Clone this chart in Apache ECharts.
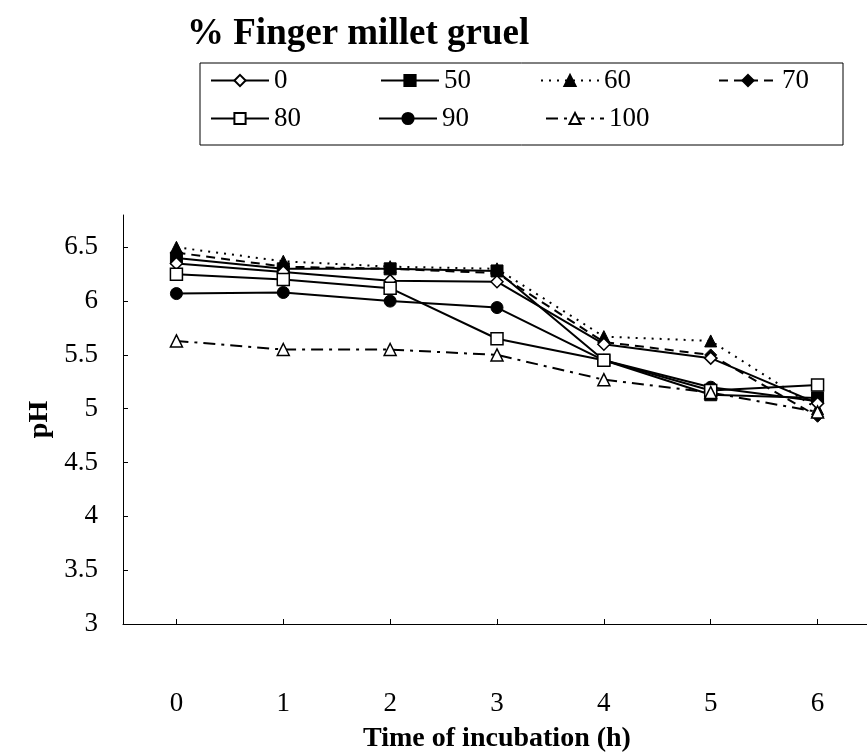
<!DOCTYPE html>
<html>
<head>
<meta charset="utf-8">
<script src="https://cdn.jsdelivr.net/npm/echarts@6/dist/echarts.min.js"></script>
<style>
  html, body { margin: 0; padding: 0; background: #fff; }
  #main { width: 867px; height: 752px; }
</style>
</head>
<body>
<div id="main"></div>
<script>
// time of incubation (h)
const hours = ["0", "1", "2", "3", "4", "5", "6"];
const yTicks = [3, 3.5, 4, 4.5, 5, 5.5, 6, 6.5];

// pH per % finger millet gruel
const ph0 = [6.35, 6.27, 6.19, 6.18, 5.6, 5.47, 5.05];
const ph50 = [6.4, 6.3, 6.3, 6.28, 5.45, 5.13, 5.1];
const ph60 = [6.5, 6.37, 6.32, 6.3, 5.67, 5.63, 5.0];
const ph70 = [6.45, 6.32, 6.3, 6.26, 5.62, 5.5, 4.93];
const ph80 = [6.25, 6.2, 6.12, 5.65, 5.45, 5.17, 5.22];
const ph90 = [6.07, 6.08, 6.0, 5.94, 5.45, 5.2, 5.07];
const ph100 = [5.63, 5.55, 5.55, 5.5, 5.27, 5.15, 4.97];

const serif = "'Liberation Serif', 'DejaVu Serif', serif";

const myChart = echarts.init(document.getElementById("main"));

// one line series
const mkSeries = (name, data, symbol, hollow, lineType) => ({
  name: name,
  type: "line",
  data: data,
  symbol: symbol,
  symbolSize: 12,
  showAllSymbol: true,
  lineStyle: { color: "#000", width: 2, type: lineType },
  itemStyle: hollow
    ? { color: "#fff", borderColor: "#000", borderWidth: 1.5 }
    : { color: "#000", borderColor: "#000", borderWidth: 1 },
  emphasis: { disabled: true },
  z: hollow ? 3 : 2,
});

// legend items placed one by one (two rows, boxed)
const legendPos = [
  ["0", 210, 67],
  ["50", 380, 67],
  ["60", 540, 67],
  ["70", 718, 67],
  ["80", 210, 105],
  ["90", 378, 105],
  ["100", 545, 105],
];

let option = {
  animation: false,
  backgroundColor: "#fff",
  title: {
    text: "% Finger millet gruel",
    left: 187,
    top: 16,
    padding: 0,
    textStyle: { fontFamily: serif, fontWeight: "bold", fontSize: 37, color: "#000" },
  },
  graphic: [
    {
      type: "rect",
      shape: { x: 200, y: 63, width: 643, height: 82 },
      style: { fill: "none", stroke: "#000", lineWidth: 1 },
      silent: true,
    },
  ],
  legend: legendPos.map((p) => ({
    data: [p[0]],
    left: p[1],
    top: p[2],
    padding: 0,
    itemWidth: 58,
    itemHeight: 14,
    itemGap: 0,
    selectedMode: false,
    textStyle: { fontFamily: serif, fontSize: 27, color: "#000" },
  })),
  grid: {
    left: 123,
    right: -4,
    top: 215,
    bottom: 128,
    outerBoundsMode: "none",
    containLabel: false,
  },
  xAxis: {
    type: "category",
    data: hours,
    boundaryGap: true,
    name: "Time of incubation (h)",
    nameLocation: "middle",
    nameGap: 101,
    nameTextStyle: { fontFamily: serif, fontWeight: "bold", fontSize: 28, color: "#000" },
    axisLine: { lineStyle: { color: "#000", width: 1 } },
    axisTick: { show: true, inside: true, length: 5, alignWithLabel: true, lineStyle: { color: "#000" } },
    axisLabel: { margin: 66, fontFamily: serif, fontSize: 27, color: "#000" },
    splitLine: { show: false },
  },
  yAxis: {
    type: "value",
    min: 3,
    max: 6.8,
    name: "pH",
    nameLocation: "middle",
    nameGap: 68,
    nameTextStyle: { fontFamily: serif, fontWeight: "bold", fontSize: 28, color: "#000" },
    axisLine: { show: true, lineStyle: { color: "#000", width: 1 } },
    axisTick: { show: true, inside: true, length: 5, customValues: yTicks, lineStyle: { color: "#000" } },
    axisLabel: { margin: 25, fontFamily: serif, fontSize: 27, color: "#000", customValues: yTicks },
    splitLine: { show: false },
  },
  series: [
    mkSeries("0", ph0, "diamond", true, "solid"),
    mkSeries("50", ph50, "rect", false, "solid"),
    mkSeries("60", ph60, "triangle", false, [2, 6]),
    mkSeries("70", ph70, "diamond", false, [9, 6]),
    mkSeries("80", ph80, "rect", true, "solid"),
    mkSeries("90", ph90, "circle", false, "solid"),
    mkSeries("100", ph100, "triangle", true, [12, 6, 3, 6]),
  ],
};

myChart.setOption(option);
</script>
</body>
</html>
